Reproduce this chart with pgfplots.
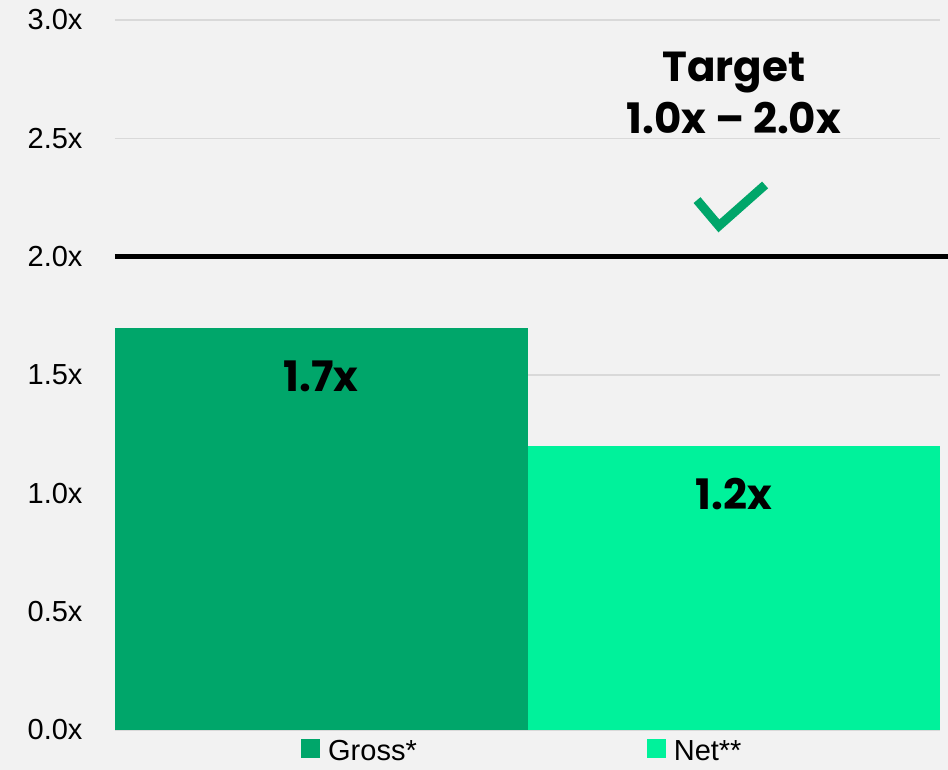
\documentclass[border=0pt]{standalone}
\usepackage{fontspec}
\setmainfont{Liberation Sans}
\newfontfamily\poppins{Poppins}
\usepackage{pgfplots}
\pgfplotsset{compat=1.18}
\definecolor{bg}{HTML}{F2F2F2}
\definecolor{gridc}{HTML}{D9D9D9}
\definecolor{gross}{RGB}{0,166,106}
\definecolor{net}{RGB}{0,242,155}
\begin{document}
\begin{tikzpicture}
\fill[bg] (-115pt,-40pt) rectangle (833pt,730pt);
\begin{axis}[
  scale only axis, width=825pt, height=710pt,
  xmin=0, xmax=2, ymin=0, ymax=3,
  axis line style={draw=none},
  xtick=\empty,
  ytick={0,0.5,1,1.5,2,2.5,3},
  yticklabels={0.0x,0.5x,1.0x,1.5x,2.0x,2.5x,3.0x},
  yticklabel style={font=\fontsize{29}{34}\selectfont, xshift=-29pt},
  major tick length=0pt,
  ymajorgrids, grid style={gridc, line width=1.2pt},
  clip=false,
  legend columns=2,
  legend style={draw=none, fill=none, font=\fontsize{29}{34}\selectfont,
    at={(0.2218,0)}, anchor=north west, yshift=-6pt,
    /tikz/every odd column/.append style={column sep=6pt},
    /tikz/every even column/.append style={column sep=228pt}},
]
\addplot[ybar, bar width=1, bar shift=0pt, fill=gross, draw=none,
  point meta=explicit symbolic, nodes near coords,
  every node near coord/.style={anchor=base, yshift=-64pt, font=\poppins\bfseries\fontsize{42}{48}\selectfont, text=black},
  legend image code/.code={\fill[gross] (0pt,-7pt) rectangle (19pt,12pt);}]
  coordinates {(0.5,1.7) [1.7x]};
\addlegendentry{Gross*}
\addplot[ybar, bar width=1, bar shift=0pt, fill=net, draw=none,
  point meta=explicit symbolic, nodes near coords,
  every node near coord/.style={anchor=base, yshift=-64pt, font=\poppins\bfseries\fontsize{42}{48}\selectfont, text=black},
  legend image code/.code={\fill[net] (0pt,-7pt) rectangle (19pt,12pt);}]
  coordinates {(1.5,1.2) [1.2x]};
\addlegendentry{Net**}
\addplot[black, line width=4.5pt, forget plot] coordinates {(0,2) (2.0194,2)};
\addplot[gross, line width=9pt, line join=miter, forget plot]
  coordinates {(1.411,2.239) (1.464,2.130) (1.576,2.303)};
\node[anchor=base, font=\poppins\bfseries\fontsize{42}{48}\selectfont] at (axis cs:1.5,2.738) {Target};
\node[anchor=base, font=\poppins\bfseries\fontsize{42}{48}\selectfont] at (axis cs:1.5,2.52) {1.0x – 2.0x};
\end{axis}
\pgfresetboundingbox
\useasboundingbox (-115pt,-40pt) rectangle (833pt,730pt);
\end{tikzpicture}
\end{document}
